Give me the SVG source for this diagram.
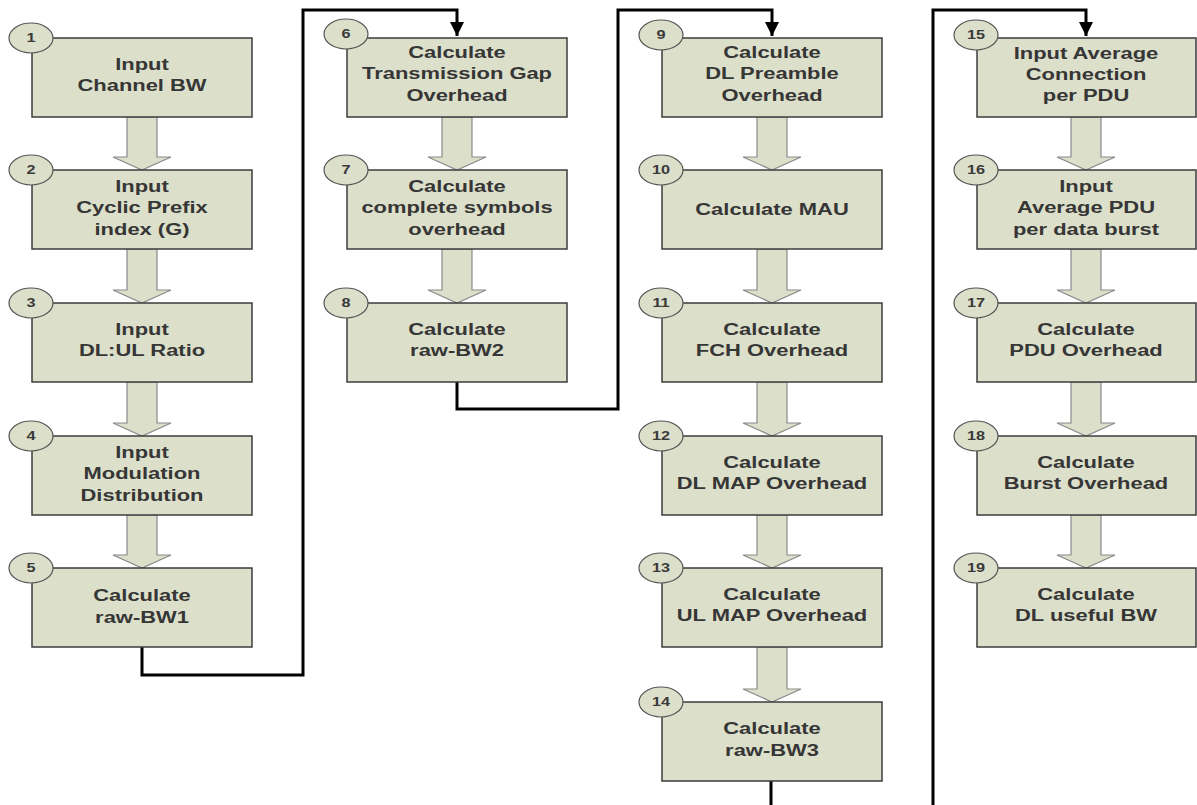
<svg xmlns="http://www.w3.org/2000/svg" width="1197" height="805" viewBox="0 0 1197 805">
  <defs>
    <style>
      .box { fill: #dcdfc9; stroke: #3c3c3c; stroke-width: 1.5; }
      .badge { fill: #dcdfc9; stroke: #555; stroke-width: 1.2; }
      .flow { fill: #dcdfc9; stroke: #8a8a8a; stroke-width: 1.2; }
      .link { fill: none; stroke: #000; stroke-width: 3; }
      .label { font-family: "Liberation Sans", Arial, sans-serif; font-weight: bold; font-size: 17px; fill: #363636; text-anchor: middle; }
      .num { font-family: "Liberation Sans", Arial, sans-serif; font-weight: bold; font-size: 13px; fill: #3a3a3a; text-anchor: middle; }
    </style>
    <marker id="head" markerUnits="userSpaceOnUse" markerWidth="16" markerHeight="16" refX="15" refY="8" orient="auto" viewBox="0 0 16 16">
      <polygon points="1,1 15,8 1,15" fill="#000"/>
    </marker>
  </defs>

  <rect width="1197" height="805" fill="#fff"/>

  <!-- connectors: block arrows inside columns, elbow lines between columns -->
  <g id="connectors">
    <!-- column 1 -->
    <polygon class="flow" points="127,117 157,117 157,157 171,157 142,170 113,157 127,157"/>
    <polygon class="flow" points="127,249 157,249 157,290 171,290 142,303 113,290 127,290"/>
    <polygon class="flow" points="127,382 157,382 157,423 171,423 142,436 113,423 127,423"/>
    <polygon class="flow" points="127,515 157,515 157,555 171,555 142,568 113,555 127,555"/>
    <!-- column 2 -->
    <polygon class="flow" points="442,117 472,117 472,157 486,157 457,170 428,157 442,157"/>
    <polygon class="flow" points="442,249 472,249 472,290 486,290 457,303 428,290 442,290"/>
    <!-- column 3 -->
    <polygon class="flow" points="757,117 787,117 787,157 801,157 772,170 743,157 757,157"/>
    <polygon class="flow" points="757,249 787,249 787,290 801,290 772,303 743,290 757,290"/>
    <polygon class="flow" points="757,382 787,382 787,423 801,423 772,436 743,423 757,423"/>
    <polygon class="flow" points="757,515 787,515 787,555 801,555 772,568 743,555 757,555"/>
    <polygon class="flow" points="757,647 787,647 787,689 801,689 772,702 743,689 757,689"/>
    <!-- column 4 -->
    <polygon class="flow" points="1071,117 1101,117 1101,157 1115,157 1086,170 1057,157 1071,157"/>
    <polygon class="flow" points="1071,249 1101,249 1101,290 1115,290 1086,303 1057,290 1071,290"/>
    <polygon class="flow" points="1071,382 1101,382 1101,423 1115,423 1086,436 1057,423 1071,423"/>
    <polygon class="flow" points="1071,515 1101,515 1101,555 1115,555 1086,568 1057,555 1071,555"/>

    <!-- elbow links -->
    <path class="link" d="M142,647 V675 H303 V10 H457 V36" marker-end="url(#head)"/>
    <path class="link" d="M457,382 V409 H618 V10 H772 V36" marker-end="url(#head)"/>
    <path class="link" d="M771,781 V805"/>
    <path class="link" d="M933,805 V10 H1086 V36" marker-end="url(#head)"/>
  </g>

  <!-- column 1 -->
  <g id="n1">
    <rect class="box" x="32" y="38" width="220" height="79"/>
    <ellipse class="badge" cx="31" cy="38" rx="22" ry="15"/>
    <g transform="translate(31,0) scale(1.25,1)"><text class="num" x="0" y="42.5">1</text></g>
    <g transform="translate(142,0) scale(1.29,1)"><text class="label" x="0" y="70.5">Input</text><text class="label" x="0" y="91.5">Channel BW</text></g>
  </g>
  <g id="n2">
    <rect class="box" x="32" y="170" width="220" height="79"/>
    <ellipse class="badge" cx="31" cy="170" rx="22" ry="15"/>
    <g transform="translate(31,0) scale(1.25,1)"><text class="num" x="0" y="174.5">2</text></g>
    <g transform="translate(142,0) scale(1.29,1)"><text class="label" x="0" y="192">Input</text><text class="label" x="0" y="213.5">Cyclic Prefix</text><text class="label" x="0" y="235">index (G)</text></g>
  </g>
  <g id="n3">
    <rect class="box" x="32" y="303" width="220" height="79"/>
    <ellipse class="badge" cx="31" cy="303" rx="22" ry="15"/>
    <g transform="translate(31,0) scale(1.25,1)"><text class="num" x="0" y="307.5">3</text></g>
    <g transform="translate(142,0) scale(1.29,1)"><text class="label" x="0" y="335.5">Input</text><text class="label" x="0" y="356.5">DL:UL Ratio</text></g>
  </g>
  <g id="n4">
    <rect class="box" x="32" y="436" width="220" height="79"/>
    <ellipse class="badge" cx="31" cy="436" rx="22" ry="15"/>
    <g transform="translate(31,0) scale(1.25,1)"><text class="num" x="0" y="440.5">4</text></g>
    <g transform="translate(142,0) scale(1.29,1)"><text class="label" x="0" y="458">Input</text><text class="label" x="0" y="479.5">Modulation</text><text class="label" x="0" y="501">Distribution</text></g>
  </g>
  <g id="n5">
    <rect class="box" x="32" y="568" width="220" height="79"/>
    <ellipse class="badge" cx="31" cy="568" rx="22" ry="15"/>
    <g transform="translate(31,0) scale(1.25,1)"><text class="num" x="0" y="572.5">5</text></g>
    <g transform="translate(142,0) scale(1.29,1)"><text class="label" x="0" y="601">Calculate</text><text class="label" x="0" y="623">raw-BW1</text></g>
  </g>

  <!-- column 2 -->
  <g id="n6">
    <rect class="box" x="347" y="38" width="220" height="79"/>
    <ellipse class="badge" cx="346" cy="34" rx="22" ry="15"/>
    <g transform="translate(346,0) scale(1.25,1)"><text class="num" x="0" y="38.5">6</text></g>
    <g transform="translate(457,0) scale(1.29,1)"><text class="label" x="0" y="58">Calculate</text><text class="label" x="0" y="79.5">Transmission Gap</text><text class="label" x="0" y="101">Overhead</text></g>
  </g>
  <g id="n7">
    <rect class="box" x="347" y="170" width="220" height="79"/>
    <ellipse class="badge" cx="346" cy="170" rx="22" ry="15"/>
    <g transform="translate(346,0) scale(1.25,1)"><text class="num" x="0" y="174.5">7</text></g>
    <g transform="translate(457,0) scale(1.29,1)"><text class="label" x="0" y="192">Calculate</text><text class="label" x="0" y="213.5">complete symbols</text><text class="label" x="0" y="235">overhead</text></g>
  </g>
  <g id="n8">
    <rect class="box" x="347" y="303" width="220" height="79"/>
    <ellipse class="badge" cx="346" cy="303" rx="22" ry="15"/>
    <g transform="translate(346,0) scale(1.25,1)"><text class="num" x="0" y="307.5">8</text></g>
    <g transform="translate(457,0) scale(1.29,1)"><text class="label" x="0" y="335.5">Calculate</text><text class="label" x="0" y="356.5">raw-BW2</text></g>
  </g>

  <!-- column 3 -->
  <g id="n9">
    <rect class="box" x="662" y="38" width="220" height="79"/>
    <ellipse class="badge" cx="661" cy="35" rx="22" ry="15"/>
    <g transform="translate(661,0) scale(1.25,1)"><text class="num" x="0" y="39.5">9</text></g>
    <g transform="translate(772,0) scale(1.29,1)"><text class="label" x="0" y="58">Calculate</text><text class="label" x="0" y="79.5">DL Preamble</text><text class="label" x="0" y="101">Overhead</text></g>
  </g>
  <g id="n10">
    <rect class="box" x="662" y="170" width="220" height="79"/>
    <ellipse class="badge" cx="661" cy="170" rx="22" ry="15"/>
    <g transform="translate(661,0) scale(1.25,1)"><text class="num" x="0" y="174.5">10</text></g>
    <g transform="translate(772,0) scale(1.29,1)"><text class="label" x="0" y="215">Calculate MAU</text></g>
  </g>
  <g id="n11">
    <rect class="box" x="662" y="303" width="220" height="79"/>
    <ellipse class="badge" cx="661" cy="303" rx="22" ry="15"/>
    <g transform="translate(661,0) scale(1.25,1)"><text class="num" x="0" y="307.5">11</text></g>
    <g transform="translate(772,0) scale(1.29,1)"><text class="label" x="0" y="335.5">Calculate</text><text class="label" x="0" y="356.5">FCH Overhead</text></g>
  </g>
  <g id="n12">
    <rect class="box" x="662" y="436" width="220" height="79"/>
    <ellipse class="badge" cx="661" cy="436" rx="22" ry="15"/>
    <g transform="translate(661,0) scale(1.25,1)"><text class="num" x="0" y="440.5">12</text></g>
    <g transform="translate(772,0) scale(1.29,1)"><text class="label" x="0" y="468.5">Calculate</text><text class="label" x="0" y="489.5">DL MAP Overhead</text></g>
  </g>
  <g id="n13">
    <rect class="box" x="662" y="568" width="220" height="79"/>
    <ellipse class="badge" cx="661" cy="568" rx="22" ry="15"/>
    <g transform="translate(661,0) scale(1.25,1)"><text class="num" x="0" y="572.5">13</text></g>
    <g transform="translate(772,0) scale(1.29,1)"><text class="label" x="0" y="600.5">Calculate</text><text class="label" x="0" y="621.5">UL MAP Overhead</text></g>
  </g>
  <g id="n14">
    <rect class="box" x="662" y="702" width="220" height="79"/>
    <ellipse class="badge" cx="661" cy="702" rx="22" ry="15"/>
    <g transform="translate(661,0) scale(1.25,1)"><text class="num" x="0" y="706.5">14</text></g>
    <g transform="translate(772,0) scale(1.29,1)"><text class="label" x="0" y="734.5">Calculate</text><text class="label" x="0" y="756">raw-BW3</text></g>
  </g>

  <!-- column 4 -->
  <g id="n15">
    <rect class="box" x="977" y="38" width="219" height="79"/>
    <ellipse class="badge" cx="976" cy="35" rx="22" ry="15"/>
    <g transform="translate(976,0) scale(1.25,1)"><text class="num" x="0" y="39.5">15</text></g>
    <g transform="translate(1086,0) scale(1.29,1)"><text class="label" x="0" y="59">Input Average</text><text class="label" x="0" y="80">Connection</text><text class="label" x="0" y="101">per PDU</text></g>
  </g>
  <g id="n16">
    <rect class="box" x="977" y="170" width="219" height="79"/>
    <ellipse class="badge" cx="976" cy="170" rx="22" ry="15"/>
    <g transform="translate(976,0) scale(1.25,1)"><text class="num" x="0" y="174.5">16</text></g>
    <g transform="translate(1086,0) scale(1.29,1)"><text class="label" x="0" y="192">Input</text><text class="label" x="0" y="213.5">Average PDU</text><text class="label" x="0" y="235">per data burst</text></g>
  </g>
  <g id="n17">
    <rect class="box" x="977" y="303" width="219" height="79"/>
    <ellipse class="badge" cx="976" cy="303" rx="22" ry="15"/>
    <g transform="translate(976,0) scale(1.25,1)"><text class="num" x="0" y="307.5">17</text></g>
    <g transform="translate(1086,0) scale(1.29,1)"><text class="label" x="0" y="335.5">Calculate</text><text class="label" x="0" y="356.5">PDU Overhead</text></g>
  </g>
  <g id="n18">
    <rect class="box" x="977" y="436" width="219" height="79"/>
    <ellipse class="badge" cx="976" cy="436" rx="22" ry="15"/>
    <g transform="translate(976,0) scale(1.25,1)"><text class="num" x="0" y="440.5">18</text></g>
    <g transform="translate(1086,0) scale(1.29,1)"><text class="label" x="0" y="468.5">Calculate</text><text class="label" x="0" y="489.5">Burst Overhead</text></g>
  </g>
  <g id="n19">
    <rect class="box" x="977" y="568" width="219" height="79"/>
    <ellipse class="badge" cx="976" cy="568" rx="22" ry="15"/>
    <g transform="translate(976,0) scale(1.25,1)"><text class="num" x="0" y="572.5">19</text></g>
    <g transform="translate(1086,0) scale(1.29,1)"><text class="label" x="0" y="600.5">Calculate</text><text class="label" x="0" y="621.5">DL useful BW</text></g>
  </g>
</svg>
